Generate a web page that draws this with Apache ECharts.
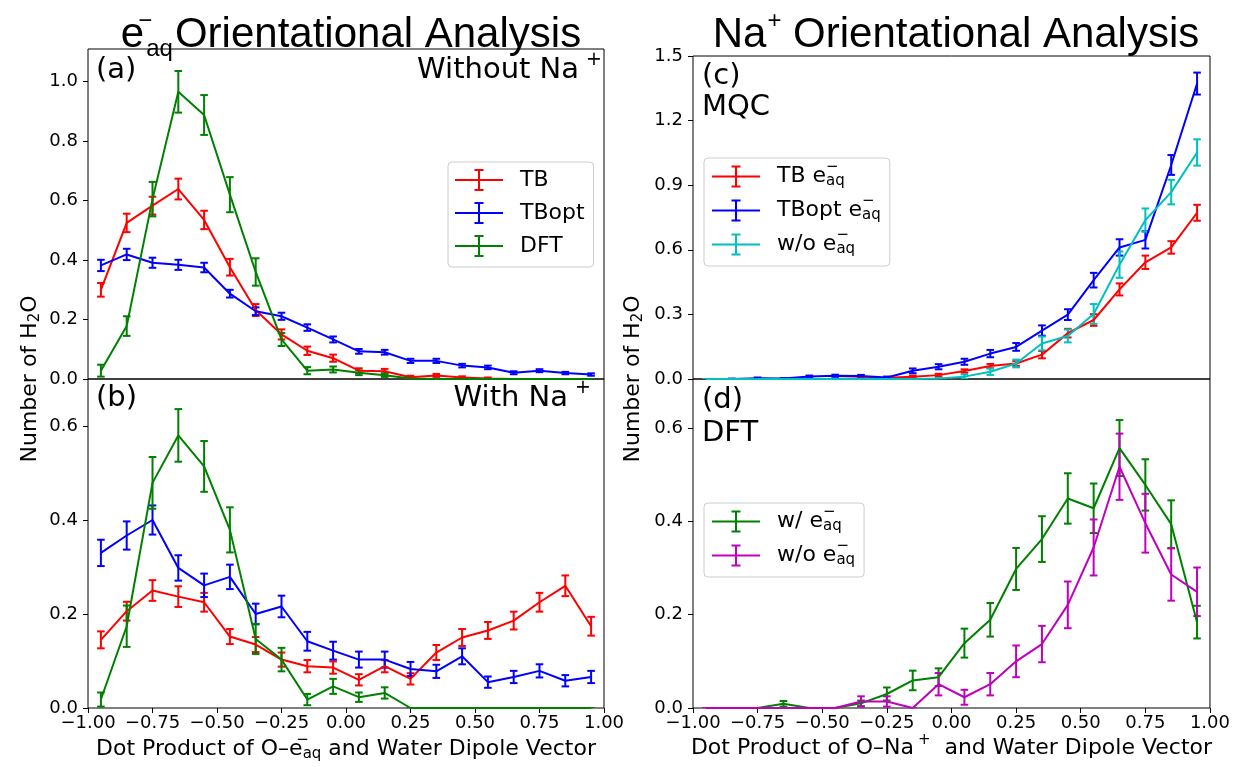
<!DOCTYPE html>
<html>
<head>
<meta charset="utf-8">
<script src="https://cdn.jsdelivr.net/npm/echarts@6/dist/echarts.min.js"></script>
<style>
  html, body { margin: 0; padding: 0; background: #fff; }
  #chart { width: 1233px; height: 767px; }
</style>
</head>
<body>
<div id="chart"></div>
<script>
// Bin centres of the dot-product histogram
const binCenters = [-0.95, -0.85, -0.75, -0.65, -0.55, -0.45, -0.35, -0.25, -0.15, -0.05,
                     0.05,  0.15,  0.25,  0.35,  0.45,  0.55,  0.65,  0.75,  0.85,  0.95];

// Tick values
const yTicksA = [0, 0.2, 0.4, 0.6, 0.8, 1.0];
const yTicksB = [0, 0.2, 0.4, 0.6];
const yTicksC = [0, 0.3, 0.6, 0.9, 1.2, 1.5];
const yTicksD = [0, 0.2, 0.4, 0.6];

// (a) e-aq, without Na+
const aTB       = [0.300, 0.525, 0.583, 0.639, 0.535, 0.376, 0.232, 0.150, 0.095, 0.070, 0.028, 0.026, 0.006, 0.012, 0.005, 0.002, 0, 0, 0, 0];
const aTBErr    = [0.023, 0.031, 0.030, 0.035, 0.031, 0.028, 0.020, 0.017, 0.014, 0.012, 0.008, 0.008, 0.005, 0.005, 0.004, 0.003, 0, 0, 0, 0];
const aTBopt    = [0.382, 0.419, 0.391, 0.384, 0.375, 0.287, 0.228, 0.211, 0.173, 0.133, 0.093, 0.090, 0.061, 0.061, 0.045, 0.039, 0.021, 0.028, 0.020, 0.015];
const aTBoptErr = [0.019, 0.019, 0.017, 0.017, 0.016, 0.013, 0.013, 0.012, 0.011, 0.010, 0.008, 0.008, 0.007, 0.007, 0.006, 0.006, 0.005, 0.005, 0.004, 0.004];
const aDFT      = [0.028, 0.178, 0.605, 0.966, 0.888, 0.620, 0.360, 0.133, 0.028, 0.032, 0.021, 0.013, 0.002, 0, 0, 0, 0, 0, 0, 0];
const aDFTErr   = [0.020, 0.033, 0.058, 0.070, 0.067, 0.059, 0.046, 0.022, 0.012, 0.010, 0.008, 0.006, 0.003, 0, 0, 0, 0, 0, 0, 0];

// (b) e-aq, with Na+
const bTB       = [0.145, 0.206, 0.250, 0.237, 0.225, 0.152, 0.135, 0.103, 0.089, 0.086, 0.060, 0.089, 0.062, 0.118, 0.150, 0.165, 0.186, 0.225, 0.260, 0.174];
const bTBErr    = [0.018, 0.020, 0.022, 0.022, 0.020, 0.016, 0.016, 0.015, 0.013, 0.013, 0.012, 0.013, 0.012, 0.016, 0.018, 0.018, 0.019, 0.020, 0.022, 0.020];
const bTBopt    = [0.330, 0.367, 0.400, 0.298, 0.261, 0.279, 0.200, 0.216, 0.142, 0.122, 0.103, 0.103, 0.083, 0.078, 0.110, 0.055, 0.066, 0.079, 0.058, 0.066];
const bTBoptErr = [0.028, 0.030, 0.031, 0.027, 0.025, 0.026, 0.022, 0.023, 0.020, 0.019, 0.017, 0.017, 0.015, 0.014, 0.017, 0.012, 0.013, 0.014, 0.012, 0.013];
const bDFT      = [0.018, 0.174, 0.479, 0.580, 0.514, 0.379, 0.147, 0.103, 0.018, 0.046, 0.023, 0.032, 0, 0, 0, 0, 0, 0, 0, 0];
const bDFTErr   = [0.015, 0.044, 0.055, 0.056, 0.054, 0.048, 0.032, 0.025, 0.012, 0.016, 0.010, 0.012, 0, 0, 0, 0, 0, 0, 0, 0];

// (c) Na+, MQC
const cTB       = [0, 0, 0, 0, 0, 0, 0.003, 0.006, 0.011, 0.018, 0.037, 0.060, 0.072, 0.113, 0.213, 0.274, 0.416, 0.542, 0.611, 0.772];
const cTBErr    = [0, 0, 0, 0, 0, 0, 0.003, 0.004, 0.005, 0.006, 0.008, 0.010, 0.011, 0.017, 0.020, 0.027, 0.028, 0.031, 0.029, 0.037];
const cTBopt    = [0, 0, 0.004, 0.002, 0.012, 0.015, 0.014, 0.007, 0.038, 0.057, 0.080, 0.118, 0.149, 0.225, 0.299, 0.459, 0.611, 0.646, 0.994, 1.372];
const cTBoptErr = [0, 0.002, 0.003, 0.002, 0.004, 0.005, 0.005, 0.004, 0.011, 0.012, 0.014, 0.017, 0.018, 0.024, 0.025, 0.034, 0.038, 0.040, 0.046, 0.051];
const cWo       = [0, 0, 0, 0, 0, 0, 0, 0, 0, 0.002, 0.011, 0.034, 0.072, 0.165, 0.200, 0.302, 0.531, 0.738, 0.868, 1.052];
const cWoErr    = [0, 0, 0, 0, 0, 0, 0, 0, 0, 0.003, 0.010, 0.015, 0.018, 0.032, 0.030, 0.046, 0.061, 0.054, 0.057, 0.061];

// (d) Na+, DFT
const dW        = [0, 0, 0, 0.009, 0, 0, 0.010, 0.030, 0.059, 0.066, 0.139, 0.189, 0.298, 0.362, 0.449, 0.428, 0.557, 0.478, 0.394, 0.184];
const dWErr     = [0, 0, 0, 0.006, 0, 0, 0.006, 0.014, 0.021, 0.019, 0.031, 0.036, 0.045, 0.049, 0.054, 0.053, 0.060, 0.055, 0.051, 0.035];
const dWo       = [0, 0, 0, 0, 0, 0, 0.014, 0.014, 0, 0.051, 0.023, 0.051, 0.100, 0.137, 0.221, 0.344, 0.517, 0.396, 0.286, 0.249];
const dWoErr    = [0, 0, 0, 0, 0, 0, 0.011, 0.011, 0, 0.024, 0.016, 0.024, 0.034, 0.039, 0.050, 0.060, 0.071, 0.063, 0.056, 0.052];

const RED = '#ff0000', BLUE = '#0000ff', GREEN = '#008000', CYAN = '#00bfbf', MAGENTA = '#bf00bf';
const DV = '"DejaVu Sans", sans-serif';
const LIB = '"Liberation Sans", Arial, sans-serif';

// rich-text pieces: stacked "−" / "aq" and raised "+"
const richSmall = {
  sup:  { fontFamily: DV, fontSize: 15, color: '#000', width: 0, padding: [0, 0, 18, 0] },
  sub:  { fontFamily: DV, fontSize: 15, color: '#000', padding: [10, 0, 0, 0] },
  supP: { fontFamily: DV, fontSize: 15, color: '#000', padding: [0, 0, 16, 4] },
  sub2: { fontFamily: DV, fontSize: 15, color: '#000', padding: [10, 0, 0, 0] }
};
const richPanel = {
  supP: { fontFamily: DV, fontSize: 19, color: '#000', padding: [0, 0, 19, 7] }
};
const richTitle = {
  sup:  { fontFamily: LIB, fontSize: 24, color: '#000', width: 0, padding: [0, 0, 29, 1] },
  sub:  { fontFamily: LIB, fontSize: 24, color: '#000', padding: [27, 2, 0, 1] },
  supP: { fontFamily: LIB, fontSize: 24, color: '#000', padding: [0, 0, 29, 1] }
};

// error-bar glyph for legends: horizontal line, vertical bar, two caps
const errIcon = 'path://M0 10H48V12H0Z M23 0H25V22H23Z M19.5 0H28.5V2H19.5Z M19.5 20H28.5V22H19.5Z';

const grids = [
  { left: 88,  top: 49,  width: 516, height: 330 },  // (a)
  { left: 88,  top: 379, width: 516, height: 329 },  // (b)
  { left: 693, top: 56,  width: 517, height: 323 },  // (c)
  { left: 693, top: 379, width: 517, height: 329 }   // (d)
].map(g => Object.assign(g, { show: true, borderColor: '#000', borderWidth: 1, backgroundColor: 'transparent' }));

const fmtX = v => (v < 0 ? '\u2212' : '') + Math.abs(v).toFixed(2);

function xAxis(gi, bottom, name) {
  return {
    type: 'value', gridIndex: gi, min: -1, max: 1, interval: 0.25, position: 'bottom',
    axisLine: { show: false, onZero: false },
    splitLine: { show: false },
    axisTick: { show: bottom, length: 5, lineStyle: { color: '#000', width: 1 } },
    axisLabel: { show: bottom, formatter: fmtX, fontFamily: DV, fontSize: 18, color: '#000', margin: 6 },
    name: name || '', nameLocation: 'middle', nameGap: 23,
    nameTextStyle: { fontFamily: DV, fontSize: 22, color: '#000', rich: richSmall }
  };
}
function yAxis(gi, max, ticks) {
  return {
    type: 'value', gridIndex: gi, min: 0, max: max, position: 'left',
    axisLine: { show: false, onZero: false },
    splitLine: { show: false },
    axisTick: { show: true, length: 5, customValues: ticks, lineStyle: { color: '#000', width: 1 } },
    axisLabel: { customValues: ticks, formatter: v => v.toFixed(1), fontFamily: DV, fontSize: 18, color: '#000', margin: 10 }
  };
}

function lineSeries(name, vals, color, gi) {
  return {
    type: 'line', name: name, xAxisIndex: gi, yAxisIndex: gi,
    data: binCenters.map((x, i) => [x, vals[i]]),
    symbol: 'none', showSymbol: false, clip: true, animation: false, silent: true,
    lineStyle: { color: color, width: 2 }, itemStyle: { color: color }
  };
}
function errorSeries(vals, errs, color, gi) {
  return {
    type: 'custom', xAxisIndex: gi, yAxisIndex: gi, clip: true, animation: false, silent: true,
    data: binCenters.map((x, i) => [x, vals[i] - errs[i], vals[i] + errs[i]]),
    encode: { x: 0, y: [1, 2] },
    renderItem: function (params, api) {
      const hi = api.coord([api.value(0), api.value(2)]);
      const lo = api.coord([api.value(0), api.value(1)]);
      const half = 3.8;
      const st = { stroke: color, lineWidth: 2 };
      return {
        type: 'group', children: [
          { type: 'line', shape: { x1: hi[0], y1: hi[1], x2: lo[0], y2: lo[1] }, style: st },
          { type: 'line', shape: { x1: hi[0] - half, y1: hi[1], x2: hi[0] + half, y2: hi[1] }, style: st },
          { type: 'line', shape: { x1: lo[0] - half, y1: lo[1], x2: lo[0] + half, y2: lo[1] }, style: st }
        ]
      };
    }
  };
}
function withErr(name, vals, errs, color, gi) {
  return [lineSeries(name, vals, color, gi), errorSeries(vals, errs, color, gi)];
}

const legendLabels = {
  'TB': 'TB', 'TBopt': 'TBopt', 'DFT': 'DFT',
  'TB mqc': 'TB e{sup|\u2212}{sub|aq}',
  'TBopt mqc': 'TBopt e{sup|\u2212}{sub|aq}',
  'w/o mqc': 'w/o e{sup|\u2212}{sub|aq}',
  'w/ dft': 'w/ e{sup|\u2212}{sub|aq}',
  'w/o dft': 'w/o e{sup|\u2212}{sub|aq}'
};
function legend(names, left, top, gap, pad) {
  return {
    data: names, orient: 'vertical', left: left, top: top, itemGap: gap, padding: pad,
    icon: errIcon, itemWidth: 48, itemHeight: 22, selectedMode: false,
    itemStyle: { borderWidth: 0 },
    backgroundColor: 'rgba(255,255,255,0.8)', borderColor: '#cccccc', borderWidth: 1, borderRadius: 4,
    formatter: n => legendLabels[n],
    textStyle: { fontFamily: DV, fontSize: 22, color: '#000', padding: [0, 0, 0, 12], rich: richSmall }
  };
}

function panelText(x, y, text, align) {
  return {
    type: 'text', x: x, y: y, silent: true, z: 10,
    style: { text: text, fontFamily: DV, fontSize: 29, fill: '#000', align: align || 'left', verticalAlign: 'middle', rich: richPanel }
  };
}

const option = {
  backgroundColor: '#fff',
  animation: false,
  grid: grids,
  xAxis: [
    xAxis(0, false),
    xAxis(1, true, 'Dot Product of O\u2013e{sup|\u2212}{sub|aq} and Water Dipole Vector'),
    xAxis(2, false),
    xAxis(3, true, 'Dot Product of O\u2013Na{supP|+}  and Water Dipole Vector')
  ],
  yAxis: [
    yAxis(0, 1.11, yTicksA),
    yAxis(1, 0.7, yTicksB),
    Object.assign(yAxis(2, 1.5, yTicksC), { interval: 0.3 }),
    yAxis(3, 0.705, yTicksD)
  ],
  legend: [
    legend(['TB', 'TBopt', 'DFT'], 448, 162, 11, [7, 9, 10, 7]),
    legend(['TB mqc', 'TBopt mqc', 'w/o mqc'], 704, 158, 5, [2, 9, 9, 8]),
    legend(['w/ dft', 'w/o dft'], 704, 503, 5, [2, 9, 9, 8])
  ],
  title: [
    { text: 'e{sup|\u2212}{sub|aq}Orientational Analysis', left: 346, top: 4, textAlign: 'center',
      textStyle: { fontFamily: LIB, fontSize: 42, fontWeight: 'normal', color: '#000', rich: richTitle } },
    { text: 'Na{supP|+} Orientational Analysis', left: 951, top: 4, textAlign: 'center',
      textStyle: { fontFamily: LIB, fontSize: 42, fontWeight: 'normal', color: '#000', rich: richTitle } }
  ],
  graphic: [
    panelText(96, 70, '(a)'),
    panelText(602, 70, 'Without Na{supP|+}', 'right'),
    panelText(96, 398, '(b)'),
    panelText(591, 398, 'With Na{supP|+}', 'right'),
    panelText(702, 76, '(c)'),
    panelText(702, 107, 'MQC'),
    panelText(702, 400, '(d)'),
    panelText(702, 433, 'DFT'),
    { type: 'text', x: 30, y: 379, rotation: Math.PI / 2, silent: true,
      style: { text: 'Number of H{sub2|2}O', fontFamily: DV, fontSize: 22, fill: '#000', align: 'center', verticalAlign: 'middle', rich: richSmall } },
    { type: 'text', x: 633, y: 379, rotation: Math.PI / 2, silent: true,
      style: { text: 'Number of H{sub2|2}O', fontFamily: DV, fontSize: 22, fill: '#000', align: 'center', verticalAlign: 'middle', rich: richSmall } }
  ],
  series: [].concat(
    withErr('TB', aTB, aTBErr, RED, 0),
    withErr('TBopt', aTBopt, aTBoptErr, BLUE, 0),
    withErr('DFT', aDFT, aDFTErr, GREEN, 0),
    withErr('TB', bTB, bTBErr, RED, 1),
    withErr('TBopt', bTBopt, bTBoptErr, BLUE, 1),
    withErr('DFT', bDFT, bDFTErr, GREEN, 1),
    withErr('TB mqc', cTB, cTBErr, RED, 2),
    withErr('TBopt mqc', cTBopt, cTBoptErr, BLUE, 2),
    withErr('w/o mqc', cWo, cWoErr, CYAN, 2),
    withErr('w/ dft', dW, dWErr, GREEN, 3),
    withErr('w/o dft', dWo, dWoErr, MAGENTA, 3)
  )
};

const chart = echarts.init(document.getElementById('chart'), null, { renderer: 'canvas' });
chart.setOption(option);
</script>
</body>
</html>
